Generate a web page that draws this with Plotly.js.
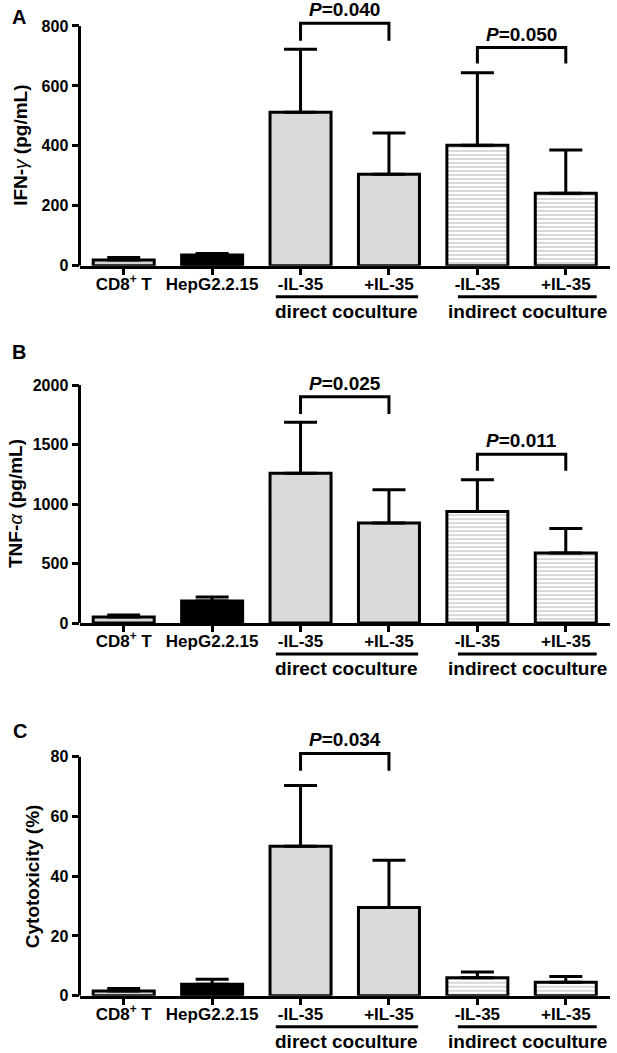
<!DOCTYPE html>
<html><head><meta charset="utf-8">
<script src="https://cdn.plot.ly/plotly-3.0.1.min.js"></script>
<style>html,body{margin:0;padding:0;background:#fff}#chart{width:617px;height:1053px}</style>
</head><body><div id="chart"></div>
<script>
// ---- data ----
const tickLabels = ['CD8<sup>+</sup> T', 'HepG2.2.15', '-IL-35', '+IL-35', '-IL-35', '+IL-35'];
const catIndex = [0, 1, 2, 3, 4, 5];
const ifnMean = [19, 36, 512, 305, 402, 242];
const ifnSD   = [8, 5, 210, 138, 242, 144];
const tnfMean = [50, 185, 1258, 840, 936, 588];
const tnfSD   = [17, 33, 428, 280, 268, 207];
const cytoMean = [1.6, 3.8, 50, 29.5, 6.0, 4.5];
const cytoSD   = [0.8, 1.7, 20.4, 15.8, 1.9, 1.9];
const yTicksA = [0, 200, 400, 600, 800];
const yTicksB = [0, 500, 1000, 1500, 2000];
const yTicksC = [0, 20, 40, 60, 80];
const yTitles = ['IFN-<span style="font-weight:normal"><i>γ</i></span> (pg/mL)',
                 'TNF-<span style="font-weight:normal"><i>α</i></span> (pg/mL)',
                 'Cytotoxicity (%)'];
const panelLetters = ['A', 'B', 'C'];
const groupLabels = ['direct coculture', 'indirect coculture'];
const groupSpans = [[1.72, 3.33], [3.78, 5.35]];
// significance: [catA, catB, p-value, bracket top, leg bottom]
const sigA = [[2, 3, '0.040', 809, 751], [4, 5, '0.050', 728, 675]];
const sigB = [[2, 3, '0.025', 1902, 1756], [4, 5, '0.011', 1418, 1280]];
const sigC = [[2, 3, '0.034', 81.1, 75.3]];
const fillColors = ['#d6d6d6', '#000000', '#dadada', '#dadada', '#d4d4d4', '#d4d4d4'];
const fillPatterns = ['', '', '', '', '-', '-'];

// ---- layout geometry (pixels) ----
const W = 617, H = 1053;
const FONT = 'Arial, "Liberation Sans", Helvetica, sans-serif';
const xLpx = 79.5, xRpx = 610;
const panels = [
  {mean: ifnMean, sd: ifnSD, ticks: yTicksA, sig: sigA, zeroPx: 265.7, topTickPx: 26, rangeTop: 870, titleX: 21, letter: [19, 17]},
  {mean: tnfMean, sd: tnfSD, ticks: yTicksB, sig: sigB, zeroPx: 623, topTickPx: 385, rangeTop: 2100, titleX: 15, letter: [19, 351.5]},
  {mean: cytoMean, sd: cytoSD, ticks: yTicksC, sig: sigC, zeroPx: 995.7, topTickPx: 756.7, rangeTop: 88, titleX: 32, letter: [20, 731]}
];

const data = [];
const layout = {
  width: W, height: H,
  margin: {l: 0, r: 0, t: 0, b: 0},
  paper_bgcolor: '#fff', plot_bgcolor: 'rgba(0,0,0,0)',
  showlegend: false,
  font: {family: FONT, color: '#000'},
  shapes: [], annotations: []
};

panels.forEach((p, i) => {
  const n = i === 0 ? '' : String(i + 1);
  const xa = 'x' + n, ya = 'y' + n;
  const topTick = p.ticks[p.ticks.length - 1];
  const pxPerUnit = (p.zeroPx - p.topTickPx) / topTick;
  const topPx = p.zeroPx - p.rangeTop * pxPerUnit;

  data.push({
    type: 'bar', x: catIndex, y: p.mean, xaxis: xa, yaxis: ya, width: 0.69,
    marker: {
      color: fillColors,
      line: {color: '#000', width: 3},
      pattern: {shape: fillPatterns, fgcolor: '#111111', fgopacity: 1, bgcolor: '#d2d2d2', fillmode: 'replace', size: 4, solidity: 0.45}
    },
    error_y: {type: 'data', symmetric: false, array: p.sd, arrayminus: p.sd.map(() => 0),
              color: '#000', thickness: 3, width: 16.5},
    hoverinfo: 'skip'
  });

  layout['xaxis' + n] = {
    domain: [xLpx / W, xRpx / W], anchor: ya, range: [-0.5, 5.5],
    tickmode: 'array', tickvals: catIndex, ticktext: tickLabels,
    ticks: 'outside', ticklen: 6, tickwidth: 3, tickcolor: '#000',
    ticklabelstandoff: -5,
    showline: true, linewidth: 3, linecolor: '#000',
    showgrid: false, zeroline: false, fixedrange: true,
    tickfont: {family: FONT, size: 17, weight: 'bold', color: '#000'}
  };
  layout['yaxis' + n] = {
    domain: [1 - p.zeroPx / H, 1 - topPx / H], anchor: xa, range: [0, p.rangeTop],
    tickmode: 'array', tickvals: p.ticks,
    ticks: 'outside', ticklen: 7, tickwidth: 3, tickcolor: '#000',
    showline: false, showgrid: false, zeroline: false, fixedrange: true,
    tickfont: {family: FONT, size: 16, weight: 'bold', color: '#000'}
  };

  // y axis line up to top tick
  layout.shapes.push({type: 'line', xref: 'paper', yref: ya, x0: xLpx / W, x1: xLpx / W,
    y0: 0, y1: topTick, line: {color: '#000', width: 3}});

  // significance brackets
  p.sig.forEach(s => {
    layout.shapes.push({type: 'path', xref: xa, yref: ya,
      path: `M ${s[0]} ${s[4]} L ${s[0]} ${s[3]} L ${s[1]} ${s[3]} L ${s[1]} ${s[4]}`,
      line: {color: '#000', width: 3}});
    layout.annotations.push({xref: xa, yref: ya, x: (s[0] + s[1]) / 2, y: s[3], yanchor: 'bottom', yshift: 1,
      text: '<i>P</i>=' + s[2], showarrow: false,
      font: {family: FONT, size: 19, weight: 'bold', color: '#000'}});
  });

  // group underlines + labels
  groupSpans.forEach((g, k) => {
    const yLine = 1 - (p.zeroPx + 31) / H;
    layout.shapes.push({type: 'line', xref: xa, yref: 'paper', x0: g[0], x1: g[1], y0: yLine, y1: yLine,
      line: {color: '#000', width: 3}});
    layout.annotations.push({xref: xa, yref: 'paper', x: (g[0] + g[1]) / 2, y: 1 - (p.zeroPx + 45.5) / H,
      yanchor: 'middle', text: groupLabels[k], showarrow: false,
      font: {family: FONT, size: 19, weight: 'bold', color: '#000'}});
  });

  // y title
  layout.annotations.push({xref: 'paper', yref: ya, x: p.titleX / W, y: topTick / 2, textangle: -90,
    xanchor: 'center', yanchor: 'middle', text: yTitles[i], showarrow: false,
    font: {family: FONT, size: 19, weight: 'bold', color: '#000'}});

  // panel letter
  layout.annotations.push({xref: 'paper', yref: 'paper', x: p.letter[0] / W, y: 1 - p.letter[1] / H,
    xanchor: 'center', yanchor: 'middle', text: panelLetters[i], showarrow: false,
    font: {family: FONT, size: 20, weight: 'bold', color: '#000'}});
});

Plotly.newPlot('chart', data, layout, {staticPlot: true, displayModeBar: false});
</script>
</body></html>
